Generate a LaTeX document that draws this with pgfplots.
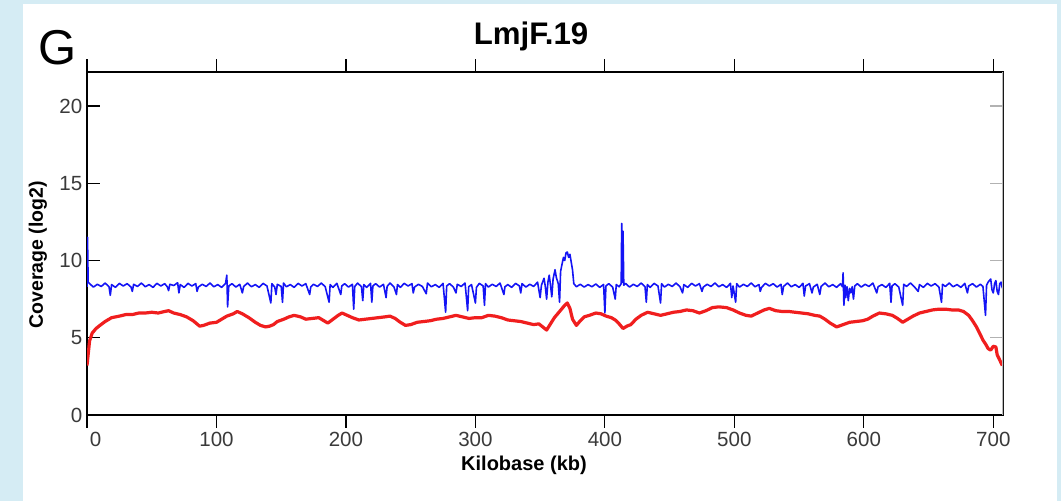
\documentclass[border=0pt]{standalone}
\usepackage{pgfplots}
\pgfplotsset{compat=1.18}
\usepackage{fontspec}
\setmainfont{Liberation Sans}
\definecolor{bgblue}{HTML}{D5ECF4}
\definecolor{ticklbl}{HTML}{3A3A3A}
\definecolor{covblue}{HTML}{1414F5}
\definecolor{covred}{HTML}{F01E1E}
\begin{document}
\begin{tikzpicture}[x=0.75pt,y=0.75pt]
\fill[bgblue] (0,0) rectangle (1061,501);
\fill[white] (23,0) rectangle (1057,497);
\begin{axis}[at={(65.25pt,64.5pt)}, anchor=south west, scale only axis,
  width=687pt, height=257.25pt,
  xmin=0, xmax=707.5, ymin=0, ymax=22.2,
  xtick={0,100,...,700}, ytick={0,5,...,20},
  xticklabels={\rlap{\hspace{2.2pt}0},100,200,300,400,500,600,700},
  xtick align=outside, ytick align=inside, ytick pos=left,
  major tick length=9.5pt,
  tick style={black, line width=0.9pt},
  axis line style={black, line width=1.1pt},
  tick label style={font=\fontsize{15.4}{18}\selectfont, text=ticklbl},
  /pgf/number format/assume math mode=true,
  clip=true]
\addplot[covblue, line width=1.2pt, line join=round] coordinates {
(0,8.3)(0.4,11.5)(0.9,8.6)(2,8.5)(5,8.28)(8,8.46)(11,8.32)(14,8.54)(17,8.3)(18,7.75)(19,8.44)(22,8.26)(25,8.52)(28,8.35)(31,8.5)(34,8.28)(35,8.0)(36,8.46)(39,8.32)(42,8.54)(45,8.3)(48,8.44)(51,8.26)(54,8.52)(57,8.35)(60,8.5)(62,8.3)(63,8.05)(64,8.46)(67,8.38)(70,8.56)(71,7.9)(72,8.44)(75,8.26)(78,8.52)(81,8.35)(84,8.5)(85,8.0)(86,8.28)(89,8.46)(92,8.32)(95,8.54)(98,8.3)(101,8.44)(104,8.26)(107,8.52)(108,9.05)(108.6,7.0)(109.5,8.35)(112,8.5)(115,8.28)(118,8.46)(120,7.9)(121,8.32)(124,8.54)(127,8.3)(130,8.44)(133,8.26)(136,8.52)(139,8.35)(142,7.25)(142.8,8.5)(145,8.28)(146,7.8)(147,8.46)(150,8.32)(151,7.3)(151.8,8.54)(154,8.3)(157,8.44)(160,8.26)(163,8.52)(166,8.35)(169,8.5)(172,7.8)(172.8,8.28)(175,8.46)(178,8.32)(181,8.54)(184,8.3)(187,7.3)(187.8,8.44)(190,8.26)(193,8.52)(196,7.8)(196.8,8.35)(199,8.5)(202,8.28)(205,8.46)(206,6.85)(206.8,8.32)(209,8.54)(212,8.3)(213,7.4)(213.8,8.44)(216,8.26)(219,8.52)(220,7.3)(220.8,8.35)(223,8.5)(226,8.28)(229,8.46)(231,7.6)(231.8,8.32)(234,8.54)(237,8.3)(239,7.8)(239.8,8.44)(242,8.26)(245,8.52)(248,8.35)(251,8.5)(252,7.9)(253,8.28)(256,8.46)(259,8.32)(262,7.85)(263,8.54)(266,8.3)(269,8.44)(272,8.26)(275,8.52)(277,6.65)(277.8,8.35)(280,8.5)(283,8.28)(285,7.9)(286,8.46)(289,8.32)(292,8.54)(294,6.75)(294.8,8.3)(297,8.44)(300,7.25)(300.8,8.26)(303,8.52)(306,8.35)(307,7.1)(307.8,8.5)(310,8.28)(313,8.46)(316,8.32)(319,8.54)(322,7.8)(322.8,8.3)(325,8.44)(328,8.26)(331,8.52)(334,8.35)(335,7.9)(336,8.5)(339,8.28)(342,8.46)(345,8.32)(348,8.6)(350,7.6)(351,8.4)(353,8.85)(354,8.3)(355,7.5)(356,8.6)(357,9.05)(358,8.4)(359,7.65)(360,8.8)(361.5,9.4)(362.5,8.9)(364,8.5)(365,7.3)(365.8,9.3)(367,9.8)(368,10.2)(369,10.0)(370,10.5)(371,10.55)(372,10.2)(373,10.4)(374,9.9)(375,9.4)(376,8.5)(378,8.3)(381,8.46)(384,8.28)(387,8.44)(390,8.3)(393,8.48)(396,8.26)(399,8.45)(400,6.6)(400.8,8.35)(403,8.5)(406,8.28)(408,7.5)(408.8,8.44)(411,8.3)(412.6,8.5)(413,12.4)(413.5,8.6)(414,11.9)(414.6,8.4)(416,8.52)(419,8.28)(422,8.46)(425,8.32)(428,8.54)(431,8.3)(432,7.3)(432.8,8.44)(435,8.26)(438,8.52)(441,8.35)(443,7.25)(443.8,8.5)(446,8.28)(449,8.46)(452,8.32)(455,8.54)(458,8.3)(460,7.9)(461,8.44)(464,8.26)(467,8.52)(470,8.35)(473,8.5)(475,8.0)(476,8.28)(479,8.46)(482,8.32)(485,8.54)(488,8.3)(491,8.44)(494,8.26)(497,8.52)(498,7.6)(499,8.35)(501,7.3)(501.8,8.5)(504,8.28)(507,8.46)(510,8.32)(513,8.54)(516,8.3)(519,8.44)(520,8.0)(521,8.26)(524,8.52)(527,8.35)(530,8.5)(533,8.28)(536,8.46)(537,7.8)(538,8.32)(541,8.54)(544,8.3)(547,8.44)(550,8.26)(553,8.52)(554,7.7)(555,8.35)(558,8.5)(560,7.9)(561,8.28)(564,8.46)(566,7.8)(567,8.32)(570,8.54)(573,8.3)(576,8.44)(579,8.26)(582,8.5)(583.5,8.3)(584,9.2)(584.6,7.1)(585.5,8.4)(586,7.6)(587,8.3)(588,7.4)(589,8.2)(590,7.9)(591,8.3)(592,7.5)(593,8.35)(595,8.5)(598,8.28)(601,8.46)(604,8.32)(607,8.54)(610,7.9)(611,8.3)(614,8.44)(617,8.26)(620,8.52)(621,7.3)(621.8,8.35)(624,8.5)(627,8.28)(630,7.1)(630.8,8.46)(633,8.32)(636,8.54)(639,8.3)(642,8.0)(643,8.44)(646,8.26)(649,8.52)(652,8.35)(655,8.5)(658,8.28)(660,7.3)(660.8,8.46)(663,8.32)(666,8.54)(669,8.3)(672,8.44)(675,8.26)(678,8.52)(680,7.9)(681,8.35)(684,8.5)(687,8.28)(690,8.46)(692,8.32)(694,6.45)(694.8,8.4)(696,8.6)(698,8.8)(699,8.1)(700,7.9)(701,8.5)(702,8.7)(703,8.0)(704,7.8)(705,8.5)(706,8.6)(707,8.2)
};
\addplot[covred, line width=2.4pt, line join=round] coordinates {
(0,3.2)(1,4.0)(2,4.8)(4,5.3)(7,5.6)(10,5.8)(14,6.05)(19,6.3)(25,6.4)(30,6.5)(35,6.5)(40,6.6)(45,6.6)(50,6.65)(55,6.6)(60,6.7)(63,6.75)(67,6.6)(72,6.5)(77,6.35)(82,6.1)(87,5.75)(90,5.8)(95,5.95)(100,6.0)(104,6.2)(108,6.4)(113,6.55)(116,6.7)(120,6.55)(125,6.3)(130,6.0)(134,5.8)(138,5.7)(141,5.75)(144,5.85)(147,6.05)(152,6.2)(156,6.35)(160,6.45)(165,6.35)(169,6.2)(174,6.25)(179,6.3)(183,6.1)(186,5.95)(190,6.2)(194,6.45)(197,6.6)(201,6.45)(205,6.3)(210,6.15)(215,6.2)(220,6.25)(225,6.3)(230,6.35)(234,6.4)(238,6.25)(242,6.0)(246,5.8)(250,5.85)(255,6.0)(260,6.05)(265,6.1)(270,6.2)(275,6.25)(280,6.35)(285,6.45)(290,6.35)(295,6.25)(300,6.3)(305,6.3)(310,6.45)(315,6.4)(320,6.3)(325,6.15)(330,6.1)(335,6.05)(340,5.95)(345,5.85)(349,5.9)(352,5.7)(355,5.5)(358,5.9)(361,6.3)(364,6.6)(367,6.9)(369,7.1)(371,7.25)(373,6.9)(375,6.2)(378,5.8)(381,6.1)(384,6.35)(388,6.45)(393,6.6)(397,6.55)(401,6.4)(405,6.3)(408,6.15)(411,5.9)(414,5.6)(417,5.75)(420,5.85)(424,6.2)(428,6.45)(433,6.65)(438,6.55)(443,6.45)(448,6.55)(453,6.65)(458,6.7)(463,6.8)(468,6.75)(473,6.6)(478,6.75)(483,6.95)(488,7.0)(494,6.95)(499,6.8)(504,6.6)(509,6.45)(513,6.4)(518,6.6)(523,6.8)(527,6.9)(532,6.75)(537,6.7)(542,6.7)(547,6.65)(552,6.6)(557,6.55)(562,6.45)(566,6.4)(570,6.2)(574,5.95)(579,5.7)(584,5.85)(589,6.0)(594,6.05)(599,6.1)(603,6.2)(607,6.4)(612,6.6)(617,6.55)(622,6.45)(626,6.25)(630,6.0)(634,6.2)(638,6.4)(643,6.6)(648,6.7)(653,6.8)(658,6.85)(663,6.85)(668,6.8)(673,6.8)(677,6.7)(681,6.45)(684,6.1)(687,5.7)(690,5.2)(692,4.85)(694,4.6)(696,4.3)(698,4.2)(700,4.45)(702,4.4)(703,3.9)(705,3.55)(707,3.2)
};
\draw[gray!55, line width=1.6pt] (rel axis cs:1,0) -- (rel axis cs:1,1);
\pgfplotsinvokeforeach{5,10,15,20}{\draw[gray!60, line width=0.9pt] (axis cs:707.5,#1) -- ++(-9.75pt,0pt);}
\end{axis}
\node[font=\bfseries\fontsize{23.4}{26}\selectfont] at (531,465) {LmjF.19};
\node[font=\fontsize{36.7}{40}\selectfont] at (58,453) {G};
\node[font=\bfseries\fontsize{15}{18}\selectfont] at (524,36) {Kilobase (kb)};
\node[font=\bfseries\fontsize{14.6}{18}\selectfont, rotate=90] at (38,246) {Coverage (log2)};
\end{tikzpicture}
\end{document}
